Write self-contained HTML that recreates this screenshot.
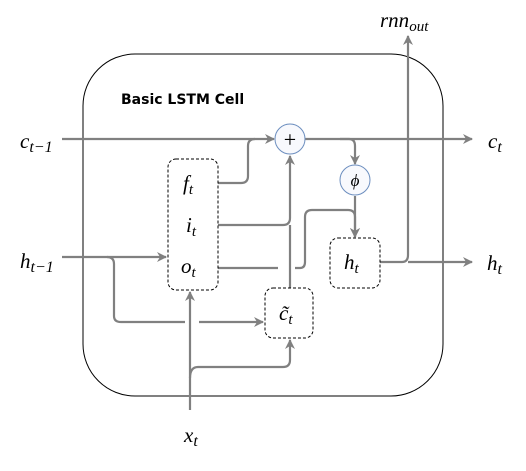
<!DOCTYPE html>
<html><head><style>body{margin:0;background:#fff}svg{display:block}</style></head><body>
<svg width="526" height="471" viewBox="0 0 526 471" xmlns="http://www.w3.org/2000/svg">
<defs><marker id="a" markerWidth="10" markerHeight="10" refX="9" refY="5" orient="auto" markerUnits="userSpaceOnUse"><path d="M0,0 L10,5 L0,10 L3,5 z" fill="#808080"/></marker></defs>
<rect x="83" y="54" width="360" height="342" rx="52" fill="none" stroke="#000" stroke-width="1"/>
<text x="121" y="104" font-family="DejaVu Sans, sans-serif" font-weight="bold" font-size="14">Basic LSTM Cell</text>
<g fill="none" stroke="#808080" stroke-width="2.2">
<path d="M62 139 L274 139" marker-end="url(#a)"/>
<path d="M305 139 L472 139" marker-end="url(#a)"/>
<path d="M218 183 L241 183 Q248 183 248 176 L248 146 Q248 139 255 139"/>
<path d="M218 225 L283 225 Q290 225 290 218 L290 156" marker-end="url(#a)"/>
<path d="M290 288 L290 225"/>
<path d="M218 268 L278 268"/>
<path d="M295 268 L300 268 Q305 268 305 262 L305 217 Q305 210 312 210 L348 210 Q355 210 355 217 L355 237" marker-end="url(#a)"/>
<path d="M340 139 L349 139 Q355 139 355 146 L355 164" marker-end="url(#a)"/>
<path d="M355 196 L355 237" marker-end="url(#a)"/>
<path d="M380 262 L402 262 Q408 262 408 255 L408 36" marker-end="url(#a)"/>
<path d="M408 262 L472 262" marker-end="url(#a)"/>
<path d="M62 257 L166 257" marker-end="url(#a)"/>
<path d="M107 257 Q114 257 114 264 L114 316 Q114 322 121 322 L185 322"/>
<path d="M199 322 L263 322" marker-end="url(#a)"/>
<path d="M190 410 L190 292" marker-end="url(#a)"/>
<path d="M190 378 Q190 367 198 367 L283 367 Q290 367 290 360 L290 340" marker-end="url(#a)"/>
</g>
<circle cx="290" cy="139" r="15" fill="#f8f9fd" stroke="#6c8ebf" stroke-width="1"/>
<circle cx="355" cy="180" r="15" fill="#f8f9fd" stroke="#6c8ebf" stroke-width="1"/>
<text x="290" y="147" text-anchor="middle" font-family="Liberation Serif, serif" font-size="22">+</text>
<text x="355" y="186" text-anchor="middle" font-family="Liberation Serif, serif" font-style="italic" font-size="17">ϕ</text>
<g fill="#fff" stroke="#000" stroke-width="1" stroke-dasharray="3,2">
<rect x="168" y="159" width="50" height="131" rx="8"/>
<rect x="330" y="238" width="50" height="50" rx="8"/>
<rect x="265" y="288" width="48" height="50" rx="8"/>
</g>
<g font-family="Liberation Serif, serif" font-style="italic" font-size="21">
<text x="183" y="190">f<tspan font-size="15" dy="4">t</tspan></text>
<text x="186" y="232">i<tspan font-size="15" dy="4">t</tspan></text>
<text x="181" y="273">o<tspan font-size="15" dy="4">t</tspan></text>
<text x="344" y="269">h<tspan font-size="15" dy="4">t</tspan></text>
<text x="279" y="320">c̃<tspan font-size="15" dy="4">t</tspan></text>
<text x="20" y="148">c<tspan font-size="16" dy="4">t−1</tspan></text>
<text x="20" y="268">h<tspan font-size="16" dy="4">t−1</tspan></text>
<text x="488" y="148">c<tspan font-size="16" dy="4">t</tspan></text>
<text x="487" y="270">h<tspan font-size="16" dy="4">t</tspan></text>
<text x="184" y="442">x<tspan font-size="16" dy="4">t</tspan></text>
<text x="380" y="27">rnn<tspan font-size="15" dy="4">out</tspan></text>
</g>
</svg>
</body></html>
